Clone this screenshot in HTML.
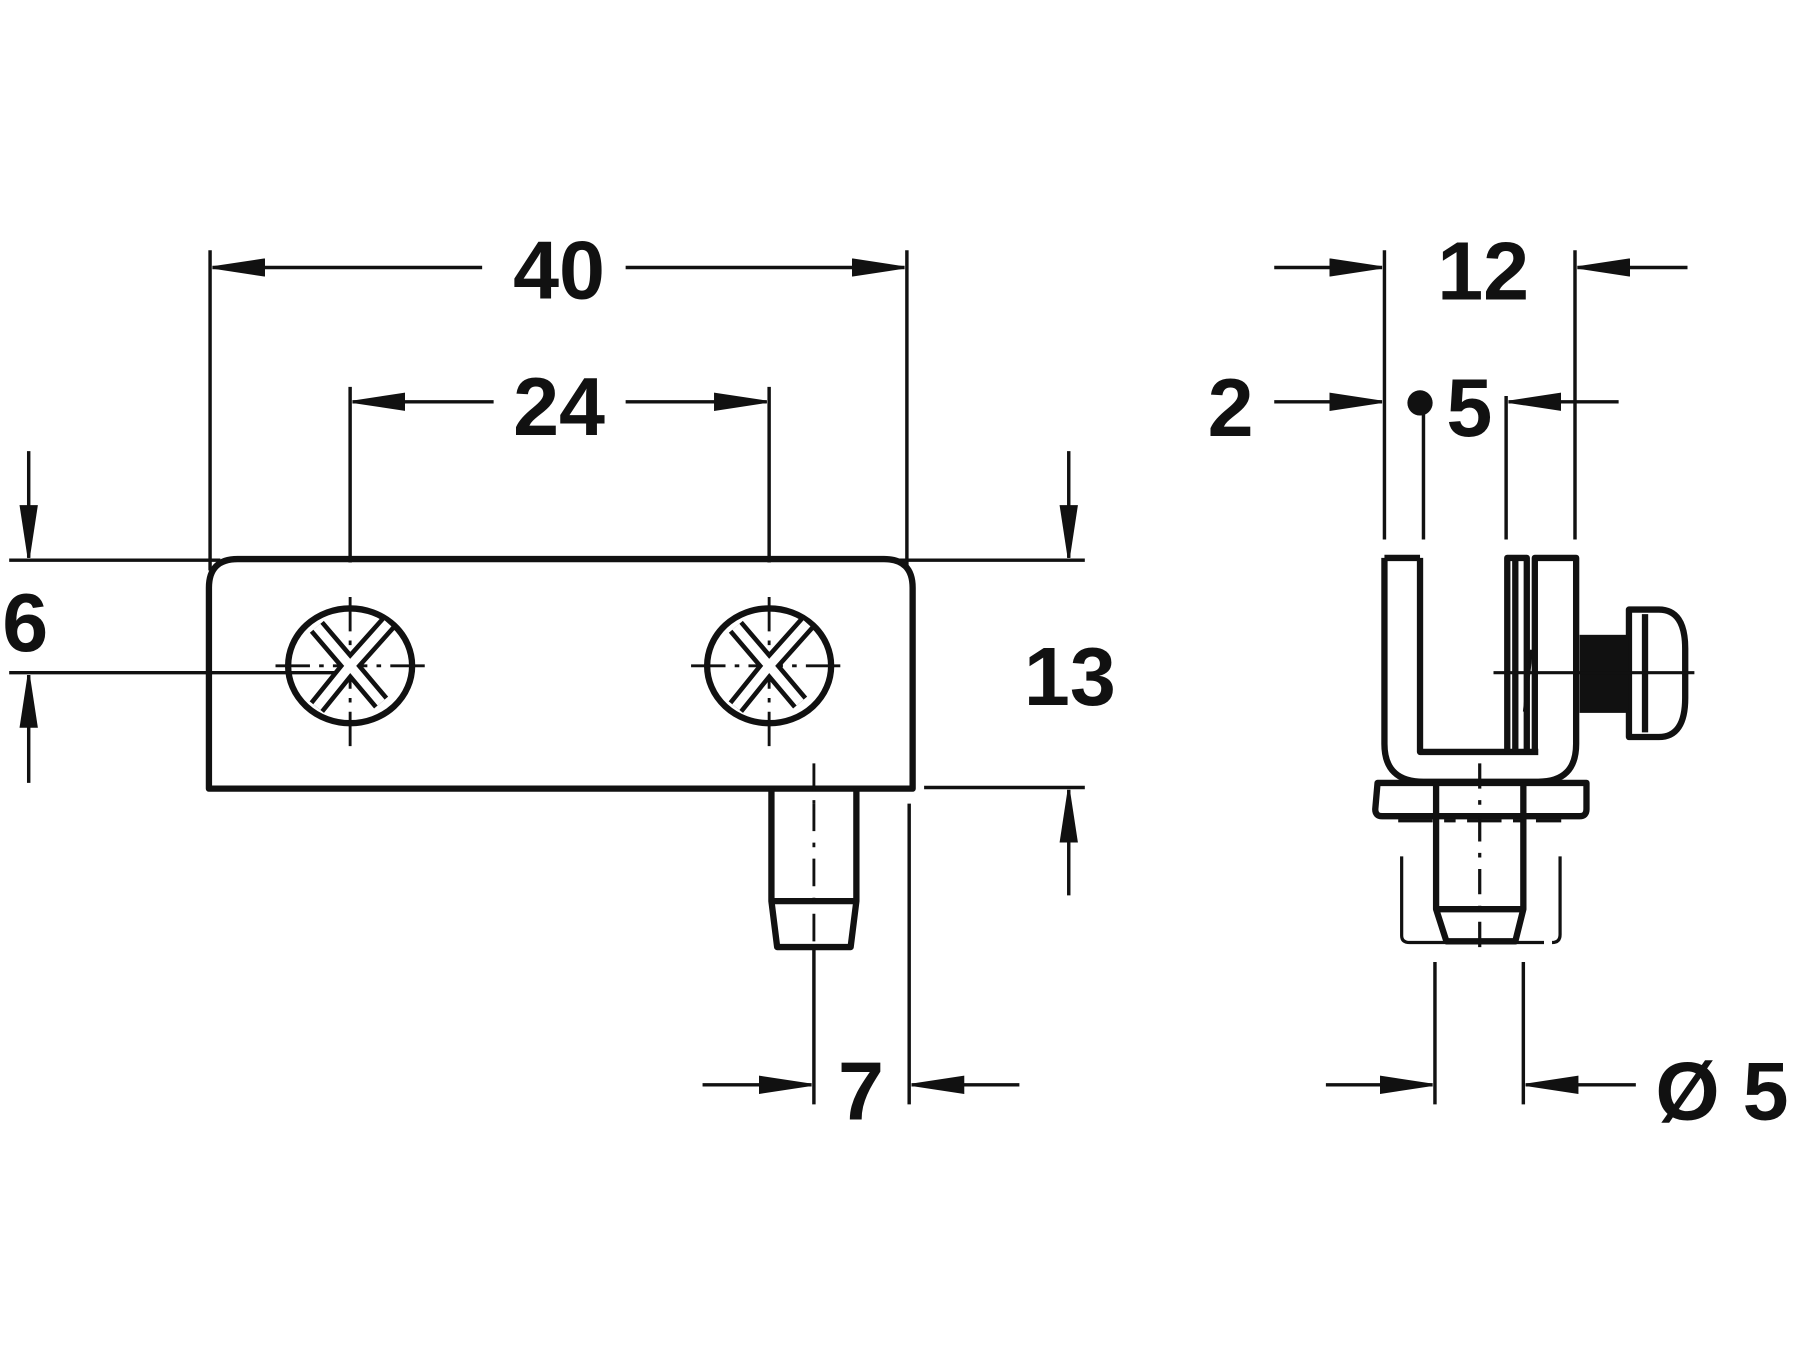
<!DOCTYPE html>
<html><head><meta charset="utf-8"><style>
html,body{margin:0;padding:0;background:#fff;}
svg{display:block;}
text{font-family:"Liberation Sans",Arial,sans-serif;font-weight:bold;font-size:72px;fill:#111;text-anchor:middle;}
</style></head><body>
<svg width="1800" height="1350" viewBox="0 0 1568 1176" xmlns="http://www.w3.org/2000/svg">
<defs>
<marker id="a" viewBox="0 0 46 16" refX="46" refY="8" markerWidth="46" markerHeight="16" markerUnits="userSpaceOnUse" orient="auto"><path d="M0,0 L46,7 L46,9 L0,16 z" fill="#111"/></marker>
</defs>
<rect width="1568" height="1176" fill="#fff"/>
<g stroke="#111" stroke-width="3" fill="none">
<line x1="183" y1="218" x2="183" y2="497"/><line x1="790" y1="218" x2="790" y2="497"/>
<line x1="420" y1="233" x2="185" y2="233" marker-end="url(#a)"/>
<line x1="545" y1="233" x2="788" y2="233" marker-end="url(#a)"/>
<line x1="305" y1="337" x2="305" y2="490"/><line x1="670" y1="337" x2="670" y2="490"/>
<line x1="430" y1="350" x2="307" y2="350" marker-end="url(#a)"/>
<line x1="545" y1="350" x2="668" y2="350" marker-end="url(#a)"/>
<line x1="8" y1="488" x2="192" y2="488"/><line x1="8" y1="586" x2="300" y2="586"/>
<line x1="25" y1="393" x2="25" y2="486" marker-end="url(#a)"/>
<line x1="25" y1="682" x2="25" y2="588" marker-end="url(#a)"/>
<line x1="775" y1="488" x2="945" y2="488"/><line x1="805" y1="686" x2="945" y2="686"/>
<line x1="931" y1="393" x2="931" y2="486" marker-end="url(#a)"/>
<line x1="931" y1="780" x2="931" y2="688" marker-end="url(#a)"/>
<line x1="709" y1="825" x2="709" y2="962"/><line x1="792" y1="700" x2="792" y2="962"/>
<line x1="612" y1="945" x2="707" y2="945" marker-end="url(#a)"/>
<line x1="888" y1="945" x2="794" y2="945" marker-end="url(#a)"/>
<line x1="1206" y1="218" x2="1206" y2="470"/><line x1="1372" y1="218" x2="1372" y2="470"/>
<line x1="1110" y1="233" x2="1204" y2="233" marker-end="url(#a)"/>
<line x1="1470" y1="233" x2="1374" y2="233" marker-end="url(#a)"/>
<line x1="1110" y1="350" x2="1204" y2="350" marker-end="url(#a)"/>
<line x1="1240" y1="350" x2="1240" y2="470"/>
<line x1="1312" y1="345" x2="1312" y2="470"/>
<line x1="1410" y1="350" x2="1314" y2="350" marker-end="url(#a)"/>
<line x1="1250" y1="838" x2="1250" y2="962"/><line x1="1327" y1="838" x2="1327" y2="962"/>
<line x1="1155" y1="945" x2="1248" y2="945" marker-end="url(#a)"/>
<line x1="1425" y1="945" x2="1329" y2="945" marker-end="url(#a)"/>
</g>
<circle cx="1237" cy="351" r="11" fill="#111"/>

<g stroke="#111" stroke-width="5.5" fill="none" stroke-linejoin="round">
<path d="M182,687 V512 Q182,487 207,487 H770 Q795,487 795,512 V687 Z"/>
<path d="M672,687 V785 L677,825 H741 L746,785 V687 M672,785 H746"/>
<ellipse cx="305" cy="580" rx="54" ry="50"/>
<ellipse cx="670" cy="580" rx="54" ry="50"/>
</g>
<g stroke="#111" stroke-width="2.5" fill="none">
<line x1="709" y1="665" x2="709" y2="700" stroke-dasharray="24 8 4 8"/>
<line x1="709" y1="700" x2="709" y2="825" stroke-dasharray="24 10 4 10"/>
<line x1="240" y1="580" x2="375" y2="580" stroke-dasharray="30 8 4 8"/>
<line x1="305" y1="520" x2="305" y2="655" stroke-dasharray="30 8 4 8"/>
<line x1="602" y1="580" x2="740" y2="580" stroke-dasharray="30 8 4 8"/>
<line x1="670" y1="520" x2="670" y2="655" stroke-dasharray="30 8 4 8"/>
</g>
<g stroke-linecap="butt">
<path d="M276,546 L305,580 L338,543 M276,616 L305,580 L332,612" stroke="#111" stroke-width="16" fill="none"/>
<path d="M276,546 L305,580 L338,543 M276,616 L305,580 L332,612" stroke="#fff" stroke-width="8" fill="none"/>
<path d="M641,546 L670,580 L703,543 M641,616 L670,580 L697,612" stroke="#111" stroke-width="16" fill="none"/>
<path d="M641,546 L670,580 L703,543 M641,616 L670,580 L697,612" stroke="#fff" stroke-width="8" fill="none"/>
</g>

<g stroke="#111" stroke-width="5.5" fill="none" stroke-linejoin="round">
<path d="M1206,486 V648 Q1206,681 1240,681 H1340 Q1373,681 1373,648 V486 H1337 V655 M1237,486 V655 H1340"/>
<path d="M1206,486 H1237"/>
<path d="M1313,655 V486 H1330 V655"/>
<line x1="1320" y1="486" x2="1320" y2="655"/>
<path d="M1200,682 H1382 V705 Q1382,711 1376,711 H1204 Q1198,711 1198,705 Z"/>
<path d="M1251,682 V792 L1260,820 H1320 L1327,792 V682 M1251,792 H1327"/>
<path d="M1419,531 H1445 Q1468,531 1468,565 V608 Q1468,642 1445,642 H1419 Z"/>
<line x1="1433" y1="535" x2="1433" y2="638"/>
</g>
<rect x="1376" y="553" width="43" height="68" fill="#111"/>
<g stroke="#111" stroke-width="2.8" fill="none">
<line x1="1301" y1="586" x2="1476" y2="586"/>
<line x1="1334" y1="566" x2="1328" y2="620"/>
<line x1="1289" y1="665" x2="1289" y2="835" stroke-dasharray="22 10 4 10"/>
<line x1="1218" y1="715" x2="1360" y2="715" stroke-dasharray="30 10 10 10"/>
<path d="M1221,746 V815 Q1221,821 1228,821 H1345"/>
<path d="M1359,746 V814 Q1359,821 1352,821"/>
</g>

<text x="487" y="260">40</text>
<text x="487" y="379">24</text>
<text x="22" y="567">6</text>
<text x="932" y="614">13</text>
<text x="750" y="975">7</text>
<text x="1292" y="261">12</text>
<text x="1072" y="380">2</text>
<text x="1280" y="380">5</text>
<text x="1500" y="975">Ø 5</text>
</svg>
</body></html>
